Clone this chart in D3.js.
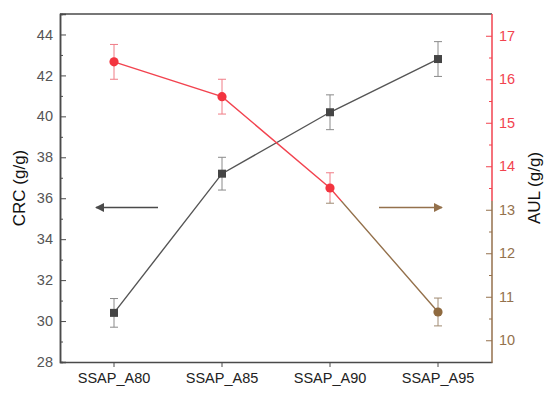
<!DOCTYPE html>
<html><head><meta charset="utf-8">
<script src="https://cdn.jsdelivr.net/npm/d3@7"></script>
<style>body{margin:0;background:#fff}svg{display:block;font-family:"Liberation Sans",Arial,sans-serif}</style>
</head><body><svg id="c" width="550" height="399"></svg>
<script>
const categories = ["SSAP_A80","SSAP_A85","SSAP_A90","SSAP_A95"];
const crcValues = [30.4, 37.2, 40.2, 42.8];
const crcErrors = [0.7, 0.8, 0.85, 0.85];
const aulValues = [16.4, 15.6, 13.5, 10.65];
const aulErrors = [0.4, 0.4, 0.35, 0.32];
const crcTicks = [28,30,32,34,36,38,40,42,44];
const aulTicks = [10,11,12,13,14,15,16,17];

const svg = d3.select("#c");
const L=60, R=492, T=14, B=362;
const RED="#f2434f", BROWN="#94714c", DARK="#4a4a4a";
const split = 13.2;
const FS = 14.5;

const x = d3.scaleBand().domain(categories).range([L,R]).padding(0);
const cx = d => x(d)+x.bandwidth()/2;
const yL = d3.scaleLinear().domain([28,45]).range([B,T]);
const yR = d3.scaleLinear().domain([9.5,17.5]).range([B,T]);

// frame top
svg.append("line").attr("x1",L).attr("x2",R).attr("y1",T).attr("y2",T).attr("stroke",DARK).attr("stroke-width",1.5);

// left axis
const gl = svg.append("g").attr("transform",`translate(${L},0)`);
gl.call(d3.axisLeft(yL).tickValues(d3.range(29,45,2)).tickSize(-3).tickFormat(""));
const glMaj = svg.append("g").attr("transform",`translate(${L},0)`).call(d3.axisLeft(yL).tickValues(crcTicks).tickSize(-6).tickPadding(7).tickFormat(d3.format("d")));
[gl,glMaj].forEach(g=>{g.selectAll("line").attr("stroke",DARK); g.select(".domain").attr("stroke",DARK).attr("stroke-width",1.5);});
glMaj.selectAll("text").attr("fill","#555").attr("font-size",FS).attr("font-family","Liberation Sans, Arial");

// bottom axis
const gb = svg.append("g").attr("transform",`translate(0,${B})`).call(d3.axisBottom(x).tickSize(5).tickPadding(6).tickSizeOuter(0));
gb.select(".domain").attr("stroke",DARK).attr("stroke-width",1.5);
gb.selectAll("line").attr("stroke",DARK);
gb.selectAll("text").attr("fill","#222").attr("font-size",FS).attr("font-family","Liberation Sans, Arial");

// right axis
const colR = v => v >= split ? RED : BROWN;
const gr = svg.append("g").attr("transform",`translate(${R},0)`);
gr.call(d3.axisRight(yR).tickValues(d3.range(10.5,17.5,1)).tickSize(-3).tickFormat(""));
gr.select(".domain").remove();
gr.selectAll(".tick line").attr("stroke",d=>colR(d));
const grMaj = svg.append("g").attr("transform",`translate(${R},0)`).call(d3.axisRight(yR).tickValues(aulTicks).tickSize(-6).tickPadding(7).tickFormat(d3.format("d")));
grMaj.select(".domain").remove();
grMaj.selectAll(".tick line").attr("stroke",d=>colR(d));
grMaj.selectAll("text").attr("fill",d=>colR(d)).attr("font-size",FS).attr("font-family","Liberation Sans, Arial");
svg.append("line").attr("x1",R).attr("x2",R).attr("y1",T).attr("y2",yR(split)).attr("stroke",RED).attr("stroke-width",1.5);
svg.append("line").attr("x1",R).attr("x2",R).attr("y1",yR(split)).attr("y2",B+0.75).attr("stroke",BROWN).attr("stroke-width",1.5);

// titles
svg.append("text").attr("transform",`translate(25,${(T+B)/2}) rotate(-90)`).attr("text-anchor","middle")
  .attr("font-size",17).attr("fill","#111").text("CRC (g/g)");
svg.append("text").attr("transform",`translate(540,${(T+B)/2}) rotate(-90)`).attr("text-anchor","middle")
  .attr("font-size",17).attr("fill","#111").text("AUL (g/g)");

// defs: arrow markers, clips
const defs = svg.append("defs");
[["aL",DARK],["aR",BROWN]].forEach(([id,c])=>{
  defs.append("marker").attr("id",id).attr("viewBox","0 0 10 10").attr("refX",9).attr("refY",5)
   .attr("markerWidth",9).attr("markerHeight",9).attr("markerUnits","userSpaceOnUse").attr("orient","auto")
   .append("path").attr("d","M0,0L10,5L0,10Z").attr("fill",c);
});
defs.append("clipPath").attr("id","top").append("rect").attr("x",0).attr("y",0).attr("width",550).attr("height",yR(split));
defs.append("clipPath").attr("id","bot").append("rect").attr("x",0).attr("y",yR(split)).attr("width",550).attr("height",399);

const crc = categories.map((c,i)=>({c,v:crcValues[i],e:crcErrors[i]}));
const aul = categories.map((c,i)=>({c,v:aulValues[i],e:aulErrors[i]}));

// CRC series
svg.append("path").datum(crc).attr("fill","none").attr("stroke","#555").attr("stroke-width",1.4)
  .attr("d",d3.line().x(d=>cx(d.c)).y(d=>yL(d.v)));
const eb = svg.append("g").attr("stroke","#8a8a8a").attr("stroke-width",1);
crc.forEach(d=>{
  const X=cx(d.c);
  eb.append("line").attr("x1",X).attr("x2",X).attr("y1",yL(d.v+d.e)).attr("y2",yL(d.v-d.e));
  eb.append("line").attr("x1",X-4).attr("x2",X+4).attr("y1",yL(d.v+d.e)).attr("y2",yL(d.v+d.e));
  eb.append("line").attr("x1",X-4).attr("x2",X+4).attr("y1",yL(d.v-d.e)).attr("y2",yL(d.v-d.e));
});
svg.append("g").selectAll("rect").data(crc).join("rect")
  .attr("x",d=>cx(d.c)-4).attr("y",d=>yL(d.v)-4).attr("width",8).attr("height",8).attr("fill","#454545");

// AUL series (red above split, brown below)
[["top",RED,"#f07c86"],["bot",BROWN,"#a08a72"]].forEach(([clip,c,ec])=>{
  const g = svg.append("g").attr("clip-path",`url(#${clip})`);
  g.append("path").datum(aul).attr("fill","none").attr("stroke",c).attr("stroke-width",1.4)
    .attr("d",d3.line().x(d=>cx(d.c)).y(d=>yR(d.v)));
  aul.forEach(d=>{
    const X=cx(d.c);
    g.append("line").attr("x1",X).attr("x2",X).attr("y1",yR(d.v+d.e)).attr("y2",yR(d.v-d.e)).attr("stroke",ec);
    g.append("line").attr("x1",X-4).attr("x2",X+4).attr("y1",yR(d.v+d.e)).attr("y2",yR(d.v+d.e)).attr("stroke",ec);
    g.append("line").attr("x1",X-4).attr("x2",X+4).attr("y1",yR(d.v-d.e)).attr("y2",yR(d.v-d.e)).attr("stroke",ec);
  });
  g.selectAll("circle").data(aul).join("circle").attr("cx",d=>cx(d.c)).attr("cy",d=>yR(d.v)).attr("r",4.6)
    .attr("fill",c==RED?"#f3343f":"#8f6a3f");
});

// arrows
const arrowY = yL(35.55);
svg.append("line").attr("x1",cx(categories[0])+44).attr("x2",cx(categories[0])-18).attr("y1",arrowY).attr("y2",arrowY)
  .attr("stroke",DARK).attr("stroke-width",1.4).attr("marker-end","url(#aL)");
svg.append("line").attr("x1",cx(categories[3])-59).attr("x2",cx(categories[3])+4).attr("y1",arrowY).attr("y2",arrowY)
  .attr("stroke",BROWN).attr("stroke-width",1.4).attr("marker-end","url(#aR)");
</script></body></html>
